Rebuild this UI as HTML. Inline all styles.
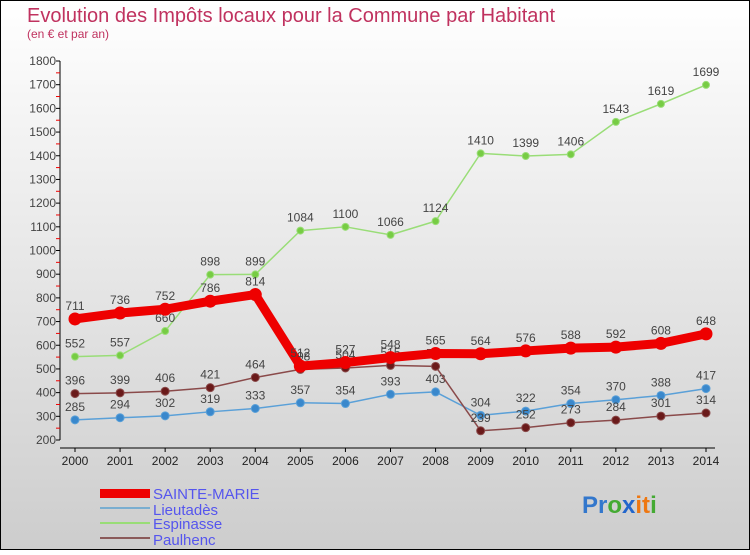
<!DOCTYPE html>
<html><head><meta charset="utf-8"><style>
body{margin:0;width:750px;height:550px;overflow:hidden;font-family:"Liberation Sans",sans-serif}
</style></head><body>
<svg id="c" width="750" height="550" xmlns="http://www.w3.org/2000/svg">
<defs><linearGradient id="bg" x1="0" y1="0" x2="0" y2="1"><stop offset="0" stop-color="#ffffff"/><stop offset="1" stop-color="#cdcdcd"/></linearGradient></defs>
<rect x="0.5" y="0.5" width="749" height="549" fill="url(#bg)" stroke="#000"/>
<text x="27" y="22" font-size="20" fill="#c0325f">Evolution des Impôts locaux pour la Commune par Habitant</text>
<text x="27" y="38" font-size="12" fill="#c0325f">(en € et par an)</text>
<g id="axes"></g><g id="series"></g>
<g>
<rect x="100" y="489" width="50" height="9" fill="#e00"/>
<text x="153" y="499" font-size="15" fill="#5555ee">SAINTE-MARIE</text>
<line x1="100" y1="508" x2="150" y2="508" stroke="#7aaed0" stroke-width="2"/>
<text x="153" y="515" font-size="15" fill="#5555ee">Lieutadès</text>
<line x1="100" y1="523" x2="150" y2="523" stroke="#99dd77" stroke-width="2"/>
<text x="153" y="529" font-size="15" fill="#5555ee">Espinasse</text>
<line x1="100" y1="538" x2="150" y2="538" stroke="#8a5a5a" stroke-width="2"/>
<text x="153" y="545" font-size="15" fill="#5555ee">Paulhenc</text>
</g>
<text x="582" y="513" font-size="24" font-weight="bold"><tspan fill="#3377cc">Pr</tspan><tspan fill="#44aa33">o</tspan><tspan fill="#2266cc">x</tspan><tspan fill="#ee7711">it</tspan><tspan fill="#44aa33">i</tspan></text>
</svg>
<script>
const years=[2000,2001,2002,2003,2004,2005,2006,2007,2008,2009,2010,2011,2012,2013,2014];
const yTicks=[200,300,400,500,600,700,800,900,1000,1100,1200,1300,1400,1500,1600,1700,1800];
const sainteMarie=[711,736,752,786,814,512,527,548,565,564,576,588,592,608,648];
const lieutades=[285,294,302,319,333,357,354,393,403,304,322,354,370,388,417];
const espinasse=[552,557,660,898,899,1084,1100,1066,1124,1410,1399,1406,1543,1619,1699];
const paulhenc=[396,399,406,421,464,498,504,515,511,239,252,273,284,301,314];
const NS="http://www.w3.org/2000/svg";
const X=i=>75+i*(706-75)/(years.length-1);
const Y=v=>440-(v-200)*(440-61)/1600;
function mk(t,a,p){const e=document.createElementNS(NS,t);for(const k in a)e.setAttribute(k,a[k]);p.appendChild(e);return e;}
const ax=document.getElementById('axes');
const yl=mk('line',{x1:60,y1:Y(1800),x2:60,y2:Y(200),stroke:'#000'},ax);


yTicks.forEach(v=>{
 mk('line',{x1:56,y1:Y(v),x2:60,y2:Y(v),stroke:'#000'},ax);
 if(v<1800)mk('line',{x1:56,y1:Y(v+50),x2:60,y2:Y(v+50),stroke:'#e00'},ax);
 const t=mk('text',{x:56,y:Y(v)+4,'font-size':12,'text-anchor':'end',fill:'#444'},ax);
 t.textContent=v;
 
 
});
const xl=mk('line',{x1:60,y1:448,x2:715,y2:448,stroke:'#000'},ax);


years.forEach((y,i)=>{
 mk('line',{x1:X(i),y1:448,x2:X(i),y2:452,stroke:'#000'},ax);
 const t=mk('text',{x:X(i),y:465,'font-size':12,'text-anchor':'middle',fill:'#222'},ax);
 t.textContent=y;
 
 
});
const sg=document.getElementById('series');
function draw(d,name,col,dot,w,r){
 const g=mk('g',{},sg);
 
 
 mk('polyline',{points:d.map((v,i)=>X(i)+','+Y(v)).join(' '),fill:'none',stroke:col,'stroke-width':w,'stroke-linejoin':'round'},g);
 d.forEach((v,i)=>{
  const c=mk('circle',{cx:X(i),cy:Y(v),r:r,fill:dot,stroke:col,'stroke-width':1},g);
  
  
  const t=mk('text',{x:X(i),y:Y(v)-9,'font-size':12,'text-anchor':'middle',fill:'#444'},g);
  t.textContent=v;
  
  
 });
}
draw(espinasse,'espinasse','#99dd77','#77cc44',1.5,3.5);
draw(lieutades,'lieutades','#5aa0d8','#3a88cc',1.5,4);
draw(paulhenc,'paulhenc','#8a4a4a','#6a1a1a',1.5,4);
draw(sainteMarie,'sainte-marie','#ee0000','#ee0000',9,6);
</script>
</body></html>
